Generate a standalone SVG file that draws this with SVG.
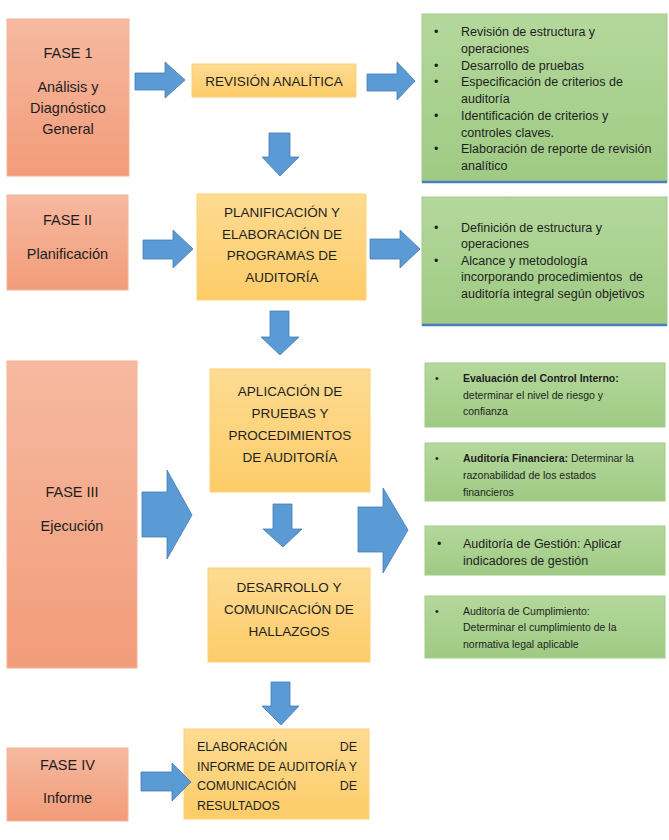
<svg xmlns="http://www.w3.org/2000/svg" width="669" height="840" viewBox="0 0 669 840">
<defs>
<linearGradient id="gO" x1="0" y1="0" x2="0" y2="1"><stop offset="0" stop-color="#f6b9a0"/><stop offset="1" stop-color="#f29c79"/></linearGradient>
<linearGradient id="gY" x1="0" y1="0" x2="0" y2="1"><stop offset="0" stop-color="#fedb92"/><stop offset="1" stop-color="#fdcc68"/></linearGradient>
<linearGradient id="gG" x1="0" y1="0" x2="0" y2="1"><stop offset="0" stop-color="#b4d89c"/><stop offset="1" stop-color="#9fca83"/></linearGradient>
</defs>
<style>
.o{fill:url(#gO);stroke:#f4b498;stroke-width:1}
.y{fill:url(#gY);stroke:#fcd27a;stroke-width:1}
.g{fill:url(#gG);stroke:#a4cb8a;stroke-width:1}
.bl{stroke:#4a7fbf;stroke-width:2.5}
.ar{fill:#5b9bd5;stroke:#4679b0;stroke-width:0.8}
text{font-family:"Liberation Sans",Arial,sans-serif;fill:#1e1e1e}
.f{font-size:14.5px;text-anchor:middle}
.c{font-size:13.5px;text-anchor:middle}
.e{font-size:12.5px}
.b1{font-size:12.5px}
.s{font-size:10.5px}
.bold{font-weight:bold}
</style>

<g id="fase1"><rect class="o" x="7" y="19" width="122" height="157"/>
<text class="f" x="68" y="58">FASE 1</text>
<text class="f" x="68" y="92">Análisis y</text>
<text class="f" x="68" y="113">Diagnóstico</text>
<text class="f" x="68" y="134">General</text></g>

<g id="revision"><rect class="y" x="192" y="64" width="164" height="33"/>
<text class="c" x="274" y="86">REVISIÓN ANALÍTICA</text></g>

<g id="lista1"><rect class="g" x="422" y="14" width="245" height="168"/>
<line class="bl" x1="422" y1="182" x2="667" y2="182"/>
<g class="b1">
<text x="434" y="36">•</text><text x="461" y="36">Revisión de estructura y</text>
<text x="461" y="52.7">operaciones</text>
<text x="434" y="69.5">•</text><text x="461" y="69.5">Desarrollo de pruebas</text>
<text x="434" y="86.2">•</text><text x="461" y="86.2">Especificación de criterios de</text>
<text x="461" y="103">auditoría</text>
<text x="434" y="119.7">•</text><text x="461" y="119.7">Identificación de criterios y</text>
<text x="461" y="136.5">controles claves.</text>
<text x="434" y="153.2">•</text><text x="461" y="153.2">Elaboración de reporte de revisión</text>
<text x="461" y="170">analítico</text>
</g></g>

<g id="fase2"><rect class="o" x="7" y="195" width="121" height="95"/>
<text class="f" x="67.5" y="225">FASE II</text>
<text class="f" x="67.5" y="259">Planificación</text></g>

<g id="planificacion"><rect class="y" x="197" y="194" width="169" height="106"/>
<text class="c" x="282" y="217">PLANIFICACIÓN Y</text>
<text class="c" x="282" y="238.5">ELABORACIÓN DE</text>
<text class="c" x="282" y="260">PROGRAMAS DE</text>
<text class="c" x="282" y="282">AUDITORÍA</text></g>

<g id="lista2"><rect class="g" x="422" y="197" width="245" height="128"/>
<line class="bl" x1="422" y1="325" x2="667" y2="325"/>
<g class="b1">
<text x="434" y="231.5">•</text><text x="461" y="231.5">Definición de estructura y</text>
<text x="461" y="248">operaciones</text>
<text x="434" y="264.5">•</text><text x="461" y="264.5">Alcance y metodología</text>
<text x="461" y="281" style="white-space:pre">incorporando procedimientos  de</text>
<text x="461" y="297.5">auditoría integral según objetivos</text>
</g></g>

<g id="fase3"><rect class="o" x="7" y="361" width="130" height="307"/>
<text class="f" x="72" y="497">FASE III</text>
<text class="f" x="72" y="531">Ejecución</text></g>

<g id="aplicacion"><rect class="y" x="210" y="369" width="160" height="123"/>
<text class="c" x="290" y="396">APLICACIÓN DE</text>
<text class="c" x="290" y="418">PRUEBAS Y</text>
<text class="c" x="290" y="440">PROCEDIMIENTOS</text>
<text class="c" x="290" y="462">DE AUDITORÍA</text></g>

<g id="desarrollo"><rect class="y" x="208" y="568" width="162" height="94"/>
<text class="c" x="289" y="592">DESARROLLO Y</text>
<text class="c" x="289" y="614">COMUNICACIÓN DE</text>
<text class="c" x="289" y="636">HALLAZGOS</text></g>

<g id="control-interno"><rect class="g" x="425" y="363" width="240" height="64"/>
<g class="s">
<text x="435" y="382">•</text><text x="463" y="382" class="bold">Evaluación del Control Interno:</text>
<text x="463" y="398.5">determinar el nivel de riesgo y</text>
<text x="463" y="415">confianza</text>
</g></g>

<g id="financiera"><rect class="g" x="425" y="443" width="240" height="58"/>
<g class="s">
<text x="435" y="462">•</text><text x="463" y="462"><tspan class="bold">Auditoría Financiera:</tspan> Determinar la</text>
<text x="463" y="479">razonabilidad de los estados</text>
<text x="463" y="496">financieros</text>
</g></g>

<g id="gestion"><rect class="g" x="425" y="526" width="240" height="49"/>
<g class="e">
<text x="437" y="547.5">•</text><text x="463" y="547.5">Auditoría de Gestión: Aplicar</text>
<text x="463" y="564.5">indicadores de gestión</text>
</g></g>

<g id="cumplimiento"><rect class="g" x="425" y="596" width="240" height="62"/>
<g class="s">
<text x="435" y="614.5">•</text><text x="463" y="614.5">Auditoría de Cumplimiento:</text>
<text x="463" y="631">Determinar el cumplimiento de la</text>
<text x="463" y="647.5">normativa legal aplicable</text>
</g></g>

<g id="fase4"><rect class="o" x="7" y="748" width="121" height="73"/>
<text class="f" x="67.5" y="770">FASE IV</text>
<text class="f" x="67.5" y="803">Informe</text></g>

<g id="informe"><rect class="y" x="184" y="729" width="185" height="90"/>
<g style="font-size:12.5px">
<text y="750.5"><tspan x="197">ELABORACIÓN</tspan><tspan x="357" text-anchor="end">DE</tspan></text>
<text x="197" y="771" textLength="160" lengthAdjust="spacingAndGlyphs">INFORME DE AUDITORÍA Y</text>
<text y="790"><tspan x="197">COMUNICACIÓN</tspan><tspan x="357" text-anchor="end">DE</tspan></text>
<text x="197" y="809.5">RESULTADOS</text>
</g></g>

<g id="connectors">
<polygon class="ar" points="135,73 165,73 165,62 185,80 165,98 165,90 135,90"/>
<polygon class="ar" points="367,74 397,74 397,62 415,81 397,100 397,91 367,91"/>
<polygon class="ar" points="143,240 173,240 173,230 193,249 173,268 173,259 143,259"/>
<polygon class="ar" points="370,239 400,239 400,230 420,249 400,268 400,259 370,259"/>
<polygon class="ar" points="142,492 167,492 167,470 192,515 167,559 167,537 142,537"/>
<polygon class="ar" points="358,507 383,507 383,488 408,530 383,573 383,552 358,552"/>
<polygon class="ar" points="141,772 172,772 172,763 191,782 172,801 172,791 141,791"/>
<polygon class="ar" points="269,133 290,133 290,157 299,157 280,176 262,157 269,157"/>
<polygon class="ar" points="270,311 289,311 289,337 299,337 280,355 261,337 270,337"/>
<polygon class="ar" points="273,504 292,504 292,529 302,529 283,547 263,529 273,529"/>
<polygon class="ar" points="271,682 290,682 290,706 299,706 281,725 262,706 271,706"/>
</g>
</svg>
